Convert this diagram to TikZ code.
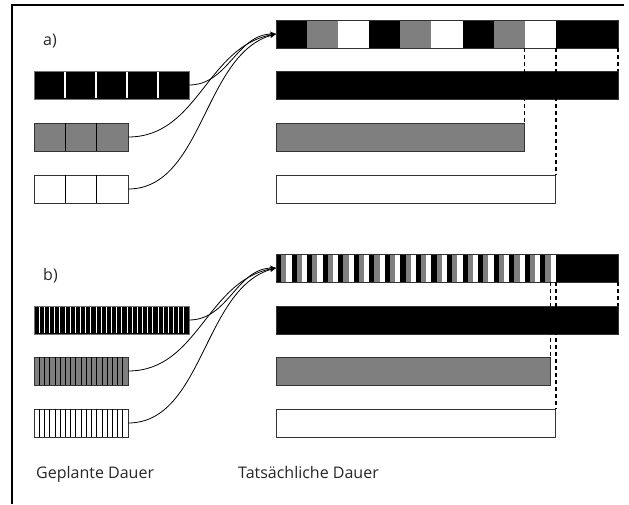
\documentclass[tikz,border=0pt]{standalone}
\usepackage{fontspec}
\setmainfont{Open Sans}
\usetikzlibrary{arrows.meta}
\definecolor{midgray}{RGB}{127,127,127}
\begin{document}
\begin{tikzpicture}[x=1pt,y=-1pt,
  bar/.style={draw=black!80, line width=0.8pt, minimum height=28pt, inner sep=0pt, outer sep=0pt, anchor=north west},
  lbl/.style={font=\fontsize{16}{19}\selectfont, text=black!85, inner sep=0pt, anchor=base west},
  conn/.style={line width=0.8pt, -{Stealth[length=6pt,width=5pt]}},
  dashline/.style={line width=1.5pt, dash pattern=on 4pt off 3pt},
]
\useasboundingbox (0,0) rectangle (629,504);
% frame
\draw[line width=1.5pt] (12,504) -- (12,5) -- (624,5);

\def\ca{31.0909}
\def\cb{5.1818}

% ---------------- part a ----------------
% actual sequence: B G W B G W B G W B B
\foreach \i/\c in {0/black,1/midgray,2/white,3/black,4/midgray,5/white,6/black,7/midgray,8/white,9/black,10/black}
  \fill[\c] ({276+\i*\ca},20) rectangle ++(\ca,28);
\node[bar, minimum width=342pt] (topA) at (276,20) {};
\node[bar, fill=black, minimum width=342pt] (blackA) at (276,71) {};
\node[bar, fill=midgray, minimum width={8*\ca pt}] (grayA) at (276,123) {};
\node[bar, fill=white, minimum width={9*\ca pt}] (whiteA) at (276,175) {};

% planned durations
\node[bar, fill=black, draw=black!55, minimum width=155pt] (pa1) at (34,71) {};
\foreach \k in {1,...,4} \draw[white, line width=1.6pt] ({34+\k*31},72) -- ++(0,26);
\node[bar, fill=midgray, minimum width=94pt] (pa2) at (34,123) {};
\foreach \k in {1,2} \draw[black, line width=0.8pt] ({34+\k*31.33},123) -- ++(0,28);
\node[bar, fill=white, minimum width=94pt] (pa3) at (34,175) {};
\foreach \k in {1,2} \draw[black, line width=0.8pt] ({34+\k*31.33},175) -- ++(0,28);

\node[lbl] (labA) at (43,45.5) {a)};

\draw[conn] (pa1.east) to[out=0, in=180] (topA.west);
\draw[conn] (pa2.east) to[out=0, in=190] (topA.west);
\draw[conn] (pa3.east) to[out=0, in=195, looseness=0.9] (topA.west);

\draw[dashline] (topA.south -| grayA.east) -- (grayA.north east);
\draw[dashline] (topA.south -| whiteA.east) -- (whiteA.north east);
\draw[dashline] (topA.south east) -- (blackA.north east);

% ---------------- part b ----------------
\foreach \i in {0,...,17} {
  \fill[black]   ({276+(3*\i)*\cb},254) rectangle ++(\cb,28);
  \fill[midgray] ({276+(3*\i+1)*\cb},254) rectangle ++(\cb,28);
  \fill[white]   ({276+(3*\i+2)*\cb},254) rectangle ++(\cb,28);
}
\fill[black] ({276+54*\cb},254) rectangle (618,282);
\node[bar, minimum width=342pt] (topB) at (276,254) {};
\node[bar, fill=black, minimum width=342pt] (blackB) at (276,306) {};
\node[bar, fill=midgray, minimum width={53*\cb pt}] (grayB) at (276,357) {};
\node[bar, fill=white, minimum width={54*\cb pt}] (whiteB) at (276,409) {};

\node[bar, fill=black, draw=black!55, minimum width=155pt] (pb1) at (34,306) {};
\foreach \k in {1,...,29} \draw[white, line width=0.8pt] ({34+\k*5.1667},307) -- ++(0,26);
\node[bar, fill=midgray, minimum width=94pt] (pb2) at (34,357) {};
\foreach \k in {1,...,17} \draw[black, line width=0.6pt] ({34+\k*5.2222},357) -- ++(0,28);
\node[bar, fill=white, minimum width=94pt] (pb3) at (34,409) {};
\foreach \k in {1,...,17} \draw[black, line width=0.6pt] ({34+\k*5.2222},409) -- ++(0,28);

\node[lbl] (labB) at (43,280.5) {b)};

\draw[conn] (pb1.east) to[out=0, in=180] (topB.west);
\draw[conn] (pb2.east) to[out=0, in=190] (topB.west);
\draw[conn] (pb3.east) to[out=0, in=195, looseness=0.9] (topB.west);

\draw[dashline] (topB.south -| grayB.east) -- (grayB.north east);
\draw[dashline] (topB.south -| whiteB.east) -- (whiteB.north east);
\draw[dashline] (topB.south east) -- (blackB.north east);

% captions
\node[lbl] (capPlan) at (36,478) {Geplante Dauer};
\node[lbl] (capReal) at (238,478) {Tatsächliche Dauer};
\end{tikzpicture}
\end{document}
